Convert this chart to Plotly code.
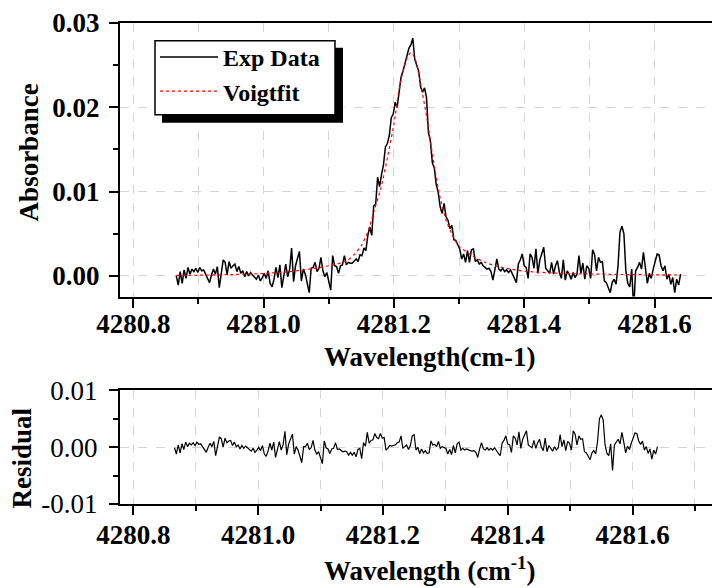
import plotly.graph_objects as go

FONT = "Liberation Serif"

# ---------------- data (absorbance values in units of 1e-3) ----------------
wl_start = 4280.866
wl_step = 0.003

absorb_milli = [
    0.0, -1.1, 0.5, -0.9, 0.7, -0.3, 1.0, 0.2, 0.8, 0.5,
    0.9, 0.4, 1.0, 0.6, 0.7, 0.2, -0.4, -0.8, 0.1, 0.8,
    0.2, 1.1, -1.4, 0.5, 1.9, 1.6, 0.1, 1.7, 0.9, 1.2,
    1.4, 0.5, 1.1, 0.3, 0.6, -0.1, 0.5, 0.0, 0.4, 0.1,
    -0.2, -0.4, 0.1, -0.6, -0.2, 0.3, -0.3, 0.6, -0.9, -1.3,
    -0.4, 1.0, -0.2, 1.3, -1.4, 0.2, 1.4, -0.1, 0.8, 3.3,
    -0.7, 1.2, 2.2, 2.9, -0.6, 0.8, 0.2, -0.9, -2.0, 0.9,
    1.0, 1.6, 0.5, 0.9, 2.2, 0.6, -0.1, 0.4, -0.6, -1.7,
    2.4, 1.2, 1.1, 0.3, 1.2, 1.3, 2.4, 1.3, 1.6, 1.5,
    1.5, 1.8, 2.0, 1.7, 2.5, 2.4, 3.3, 3.0, 4.8, 5.8,
    4.8, 8.3, 8.5, 11.7, 10.6, 12.0, 13.2, 15.3, 15.7, 16.7,
    18.8, 19.2, 20.6, 20.0, 21.8, 23.6, 24.3, 25.3, 26.2, 27.0,
    27.4, 28.2, 25.7, 25.0, 24.3, 22.4, 21.8, 22.3, 21.2, 17.0,
    16.0, 13.4, 12.8, 10.8, 9.9, 8.2, 7.4, 8.6, 7.0, 6.6,
    5.6, 6.0, 4.3, 4.2, 3.6, 3.2, 2.0, 2.6, 1.6, 3.0,
    1.6, 3.1, 3.2, 1.7, 1.9, 1.4, 1.6, 1.2, 1.0, 0.8,
    0.9, 0.5, -0.5, 1.0, 2.0, 0.8, 0.6, 0.9, 0.5, 0.7,
    0.4, 0.7, 0.1, -0.3, -0.8, 1.4, 1.9, 2.6, 1.2, 1.0,
    -0.3, 2.6, 2.2, 0.9, 3.2, 0.3, 1.9, 2.8, 3.4, 0.9,
    0.6, 0.3, 1.6, 0.2, 1.2, 1.8, 0.4, -0.3, 1.9, -0.5,
    0.6, 0.2, -0.4, 0.4, -0.2, 0.2, 2.4, 0.3, 1.5, -0.4,
    1.2, 0.9, -0.3, 3.1, 2.5, 0.6, 2.2, 1.6, 1.7, -0.6,
    -0.8, -1.4, -2.0, -0.8, -0.4, -1.0, 1.2, 5.2, 5.9, 5.0,
    0.6, -0.9, -1.3, 0.8, -4.0, 0.6, 1.0, 1.6, 0.8, 2.8,
    1.0, -0.9, 0.3, -0.3, 0.8, 1.6, 2.6, 2.5, 1.2, 0.6,
    1.2, -0.4, 0.2, -1.0, -0.2, -2.0, -0.4, -1.1, 0.2,
]

resid_milli = [
    -0.1, -1.2, 0.4, -1.0, 0.6, -0.4, 0.9, 0.1, 0.7, 0.4,
    0.8, 0.3, 0.9, 0.5, 0.6, 0.1, -0.5, -0.9, 0.0, 0.7,
    0.1, 1.0, -1.5, 0.4, 1.8, 1.5, 0.0, 1.6, 0.8, 1.1,
    1.2, 0.3, 0.9, 0.1, 0.4, -0.3, 0.3, -0.2, 0.2, -0.1,
    -0.5, -0.7, -0.2, -0.9, -0.5, 0.0, -0.6, 0.3, -1.2, -1.6,
    -0.7, 0.7, -0.5, 0.9, -1.8, -0.2, 1.0, -0.5, 0.4, 2.8,
    -1.3, 0.6, 1.6, 2.3, -1.2, 0.1, -0.5, -1.6, -2.7, 0.1,
    0.1, 0.7, -0.4, -0.1, 1.2, -0.5, -1.2, -0.8, -1.8, -2.9,
    1.1, -0.1, -0.3, -1.1, -0.3, -0.2, 0.8, -0.4, -0.3, -0.6,
    -0.8, -0.7, -0.8, -1.4, -0.9, -1.4, -0.9, -1.7, -0.4, -0.2,
    -2.0, 0.8, 0.2, 2.6, 0.7, 1.2, 1.3, 2.4, 1.7, 1.5,
    2.4, 1.6, 1.7, -0.5, -0.2, 0.3, 0.2, 0.3, 0.4, 0.8,
    0.9, 2.0, -0.2, 0.1, 0.4, -0.4, 0.3, 2.0, 2.2, -0.5,
    0.0, -1.1, -0.3, -1.0, -0.6, -1.1, -1.0, 1.1, 0.4, 0.5,
    0.1, 1.0, -0.2, 0.1, -0.1, -0.2, -1.2, -0.4, -1.3, 0.3,
    -1.0, 0.6, 0.9, -0.5, -0.2, -0.5, -0.3, -0.5, -0.6, -0.7,
    -0.6, -0.9, -1.8, -0.3, 0.8, -0.3, -0.5, -0.1, -0.5, -0.2,
    -0.5, -0.1, -0.7, -1.1, -1.5, 0.7, 1.2, 2.0, 0.6, 0.4,
    -0.9, 2.0, 1.6, 0.4, 2.7, -0.2, 1.4, 2.3, 2.9, 0.4,
    0.2, -0.1, 1.2, -0.2, 0.8, 1.4, 0.0, -0.6, 1.6, -0.8,
    0.3, -0.1, -0.7, 0.1, -0.5, -0.1, 2.2, 0.1, 1.3, -0.6,
    1.0, 0.7, -0.5, 2.9, 2.3, 0.4, 2.0, 1.4, 1.5, -0.8,
    -1.0, -1.6, -2.2, -1.0, -0.6, -1.2, 1.0, 5.0, 5.7, 4.8,
    0.4, -1.1, -1.5, 0.6, -4.1, 0.4, 0.8, 1.4, 0.6, 2.6,
    0.9, -1.0, 0.2, -0.4, 0.7, 1.5, 2.5, 2.4, 1.1, 0.5,
    1.1, -0.5, 0.1, -1.1, -0.3, -2.1, -0.5, -1.2, 0.1,
]

fit_wl = [4280.866, 4280.90, 4280.95, 4281.00, 4281.04, 4281.07, 4281.10,
          4281.12, 4281.13, 4281.14, 4281.15, 4281.16, 4281.17, 4281.18,
          4281.19, 4281.20, 4281.21, 4281.22, 4281.226, 4281.232, 4281.24,
          4281.25, 4281.26, 4281.27, 4281.28, 4281.29, 4281.30, 4281.32,
          4281.34, 4281.36, 4281.38, 4281.40, 4281.45, 4281.50, 4281.55,
          4281.60, 4281.64]
fit_milli = [0.05, 0.08, 0.15, 0.28, 0.50, 0.80, 1.20,
             1.55, 1.9, 2.6, 3.6, 5.2, 7.8, 10.4,
             14.0, 18.0, 23.0, 25.8, 26.5, 25.9, 23.2,
             19.0, 14.0, 9.6, 6.6, 4.8, 3.5, 2.4,
             1.6, 1.1, 0.8, 0.55, 0.32, 0.22, 0.16,
             0.12, 0.10]

x_tick_vals = [4280.8, 4281.0, 4281.2, 4281.4, 4281.6]
x_tick_text = ["4280.8", "4281.0", "4281.2", "4281.4", "4281.6"]
y1_tick_vals = [0.00, 0.01, 0.02, 0.03]
y1_tick_text = ["0.00", "0.01", "0.02", "0.03"]
y2_tick_vals = [-0.01, 0.00, 0.01]
y2_tick_text = ["-0.01", "0.00", "0.01"]

# ---------------- build ----------------
wl = [round(wl_start + wl_step * i, 4) for i in range(len(absorb_milli))]
absorb = [v * 1e-3 for v in absorb_milli]
resid = [v * 1e-3 for v in resid_milli]
fit = [v * 1e-3 for v in fit_milli]

fig = go.Figure()
fig.add_trace(go.Scatter(x=wl, y=absorb, mode="lines", name="Exp Data",
                         line=dict(color="black", width=1.5),
                         xaxis="x", yaxis="y"))
fig.add_trace(go.Scatter(x=fit_wl, y=fit, mode="lines", name="Voigtfit",
                         line=dict(color="red", width=1.2, dash="dot", shape="spline", smoothing=0.6),
                         xaxis="x", yaxis="y"))
fig.add_trace(go.Scatter(x=wl, y=resid, mode="lines", name="Residual",
                         line=dict(color="black", width=1.2), showlegend=False,
                         xaxis="x2", yaxis="y2"))

GRID = "#d4d4d4"
tick_bold = dict(family=FONT, size=27, color="black", weight="bold")
tick_reg = dict(family=FONT, size=27, color="black")
title_bold = dict(family=FONT, size=27, color="black", weight="bold")

def xaxis_common(rng, anchor, standoff):
    return dict(
        range=rng, anchor=anchor, domain=[0, 1],
        tickmode="array", tickvals=x_tick_vals, ticktext=x_tick_text,
        ticks="outside", ticklen=9, tickwidth=2, tickcolor="black",
        showline=True, linewidth=2, linecolor="black", mirror=True,
        showgrid=True, gridcolor=GRID, griddash="dash", gridwidth=1,
        minor=dict(dtick=0.1, tick0=4280.8, ticks="outside", ticklen=5,
                   tickwidth=2, tickcolor="black", showgrid=True,
                   gridcolor=GRID, griddash="dash", gridwidth=1),
        tickfont=tick_bold, zeroline=False, fixedrange=True,
        ticklabeloverflow="allow", ticklabelstandoff=standoff,
    )

# The page body has an 8px margin, so the figure is 712x580 and starts at (8, 8).
# Plot area (page px): top panel y 17..294, bottom panel y 389..504, x 120..720
H = 504 - 17
top_dom = [(504 - 294) / H, 1.0]
bot_dom = [0.0, (504 - 389) / H]

fig.update_layout(
    width=712, height=580,
    margin=dict(l=112, r=0, t=9, b=84),
    paper_bgcolor="white", plot_bgcolor="white",
    font=dict(family=FONT, color="black"),
    xaxis=xaxis_common([4280.7796, 4281.7005], "y", -7),
    xaxis2=xaxis_common([4280.7787, 4281.7402], "y2", -3),
    yaxis=dict(
        domain=top_dom, anchor="x", range=[-0.00246, 0.03],
        tickmode="array", tickvals=y1_tick_vals, ticktext=y1_tick_text,
        ticks="outside", ticklen=9, tickwidth=2, tickcolor="black",
        showline=True, linewidth=2, linecolor="black", mirror=False,
        showgrid=True, gridcolor=GRID, griddash="dash", gridwidth=1,
        minor=dict(tickvals=[0.005, 0.015, 0.025], ticks="outside", ticklen=5,
                   tickwidth=2, tickcolor="black", showgrid=False),
        tickfont=tick_bold, zeroline=False, fixedrange=True,
        ticklabeloverflow="allow", ticklabelstandoff=4,
    ),
    yaxis2=dict(
        domain=bot_dom, anchor="x2", range=[-0.01, 0.01],
        tickmode="array", tickvals=y2_tick_vals, ticktext=y2_tick_text,
        ticks="outside", ticklen=9, tickwidth=2, tickcolor="black",
        showline=True, linewidth=2, linecolor="black", mirror=False,
        showgrid=True, gridcolor=GRID, griddash="dash", gridwidth=1,
        minor=dict(tickvals=[-0.005, 0.005], ticks="outside", ticklen=5,
                   tickwidth=2, tickcolor="black", showgrid=False),
        tickfont=tick_reg, zeroline=False, fixedrange=True,
        ticklabeloverflow="allow", ticklabelstandoff=6,
    ),
    showlegend=True,
    legend=dict(x=(155 - 120) / 600, y=(504 - 29) / H, xanchor="left", yanchor="top",
                bgcolor="rgba(0,0,0,0)", borderwidth=0,
                font=dict(family=FONT, size=24, color="black", weight="bold"),
                itemwidth=58, tracegroupgap=0),
)

def px_x(p):
    return (p - 120) / 600

def px_y(p):
    return (504 - p) / H

# legend frame with drop shadow (drawn under the legend entries)
fig.add_shape(type="rect", xref="paper", yref="paper",
              x0=px_x(162), x1=px_x(343), y0=px_y(118), y1=px_y(42),
              fillcolor="black", line=dict(width=0), layer="above")
fig.add_shape(type="rect", xref="paper", yref="paper",
              x0=px_x(155), x1=px_x(335), y0=px_y(110), y1=px_y(35),
              fillcolor="white", line=dict(color="black", width=1.5), layer="above")

ann = [
    dict(text="Absorbance", x=px_x(29), y=px_y(148), textangle=-90, font=title_bold),
    dict(text="Wavelength(cm-1)", x=px_x(429), y=px_y(355), font=title_bold),
    dict(text="Residual", x=px_x(22), y=px_y(458), textangle=-90, font=title_bold),
    dict(text="Wavelength (cm<sup>-1</sup>)", x=px_x(429), y=px_y(570), font=title_bold),
]
for a in ann:
    fig.add_annotation(xref="paper", yref="paper", showarrow=False,
                       xanchor="center", yanchor="middle", **a)

fig.write_html("out.html")
